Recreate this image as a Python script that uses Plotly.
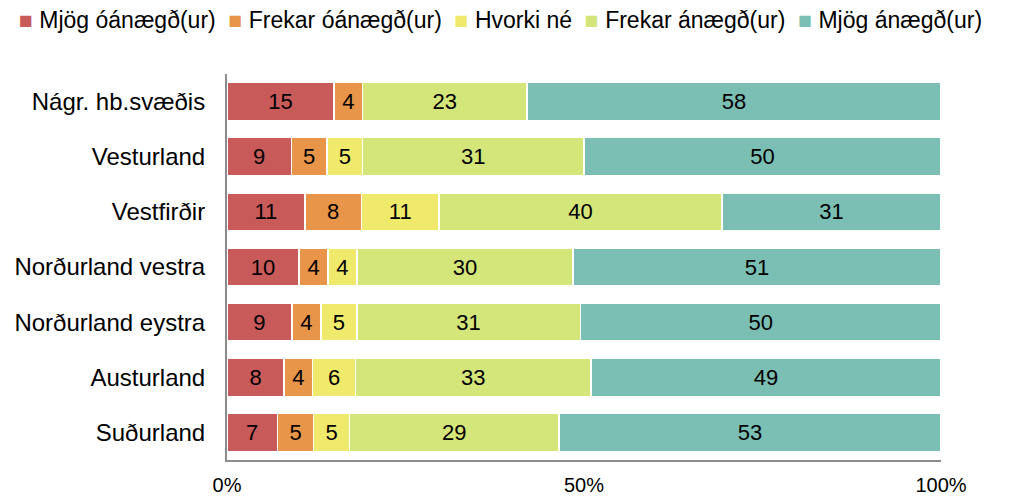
import plotly.graph_objects as go

categories = ["Nágr. hb.svæðis", "Vesturland", "Vestfirðir", "Norðurland vestra",
              "Norðurland eystra", "Austurland", "Suðurland"]
series_names = ["Mjög óánægð(ur)", "Frekar óánægð(ur)", "Hvorki né",
                "Frekar ánægð(ur)", "Mjög ánægð(ur)"]
mjog_oanaegd = [15, 9, 11, 10, 9, 8, 7]
frekar_oanaegd = [4, 5, 8, 4, 4, 4, 5]
hvorki_ne = [0, 5, 11, 4, 5, 6, 5]
frekar_anaegd = [23, 31, 40, 30, 31, 33, 29]
mjog_anaegd = [58, 50, 31, 51, 50, 49, 53]
tick_vals = [0, 50, 100]
tick_text = ["0%", "50%", "100%"]

series = [mjog_oanaegd, frekar_oanaegd, hvorki_ne, frekar_anaegd, mjog_anaegd]
colors = ["#C95A5A", "#E8954A", "#F0EA6C", "#D4E67A", "#7BBFB4"]
FONT = "Liberation Sans, Arial, sans-serif"

# page has an 8px body margin, so the figure is sized to fit the window
W, H = 1001, 488
L, R, T, B = 219, 68, 66, 36

fig = go.Figure()
for name, vals, col in zip(series_names, series, colors):
    fig.add_trace(go.Bar(
        y=categories, x=vals, name=name, orientation="h",
        marker=dict(color=col, line=dict(color="white", width=1.5)),
        text=[str(v) if v > 0 else "" for v in vals],
        textposition="inside", insidetextanchor="middle",
        textfont=dict(color="black", size=22, family=FONT),
        hoverinfo="skip", showlegend=False,
    ))

# Legend drawn as a single line of text with coloured square glyphs
sep = "&nbsp;&nbsp;"
legend_html = sep.join(
    f'<span style="color:{c}">■</span>&nbsp;{n}' for n, c in zip(series_names, colors)
)
pw = W - L - R
ph = H - T - B
fig.add_annotation(
    text=legend_html, xref="paper", yref="paper",
    x=(9 - L) / pw, y=1 + (T - 12) / ph, xanchor="left", yanchor="middle",
    showarrow=False, font=dict(size=23, family=FONT, color="black"),
)

fig.update_layout(
    barmode="stack", barnorm="percent",
    width=W, height=H,
    margin=dict(l=L, r=R, t=T, b=B, autoexpand=False),
    paper_bgcolor="white", plot_bgcolor="white",
    font=dict(family=FONT, size=22, color="black"),
    bargap=0.31,
    showlegend=False,
)
fig.update_xaxes(range=[0, 100], tickvals=tick_vals, ticktext=tick_text,
                 showgrid=False, zeroline=False, showline=True,
                 linecolor="#8c8c8c", linewidth=2, ticks="",
                 ticklabelstandoff=6, tickfont=dict(size=20), automargin=False)
fig.update_yaxes(autorange="reversed", showgrid=False, showline=True,
                 linecolor="#8c8c8c", linewidth=2, ticks="",
                 ticklabelstandoff=15, tickfont=dict(size=24), automargin=False)

fig.write_html("out.html")
